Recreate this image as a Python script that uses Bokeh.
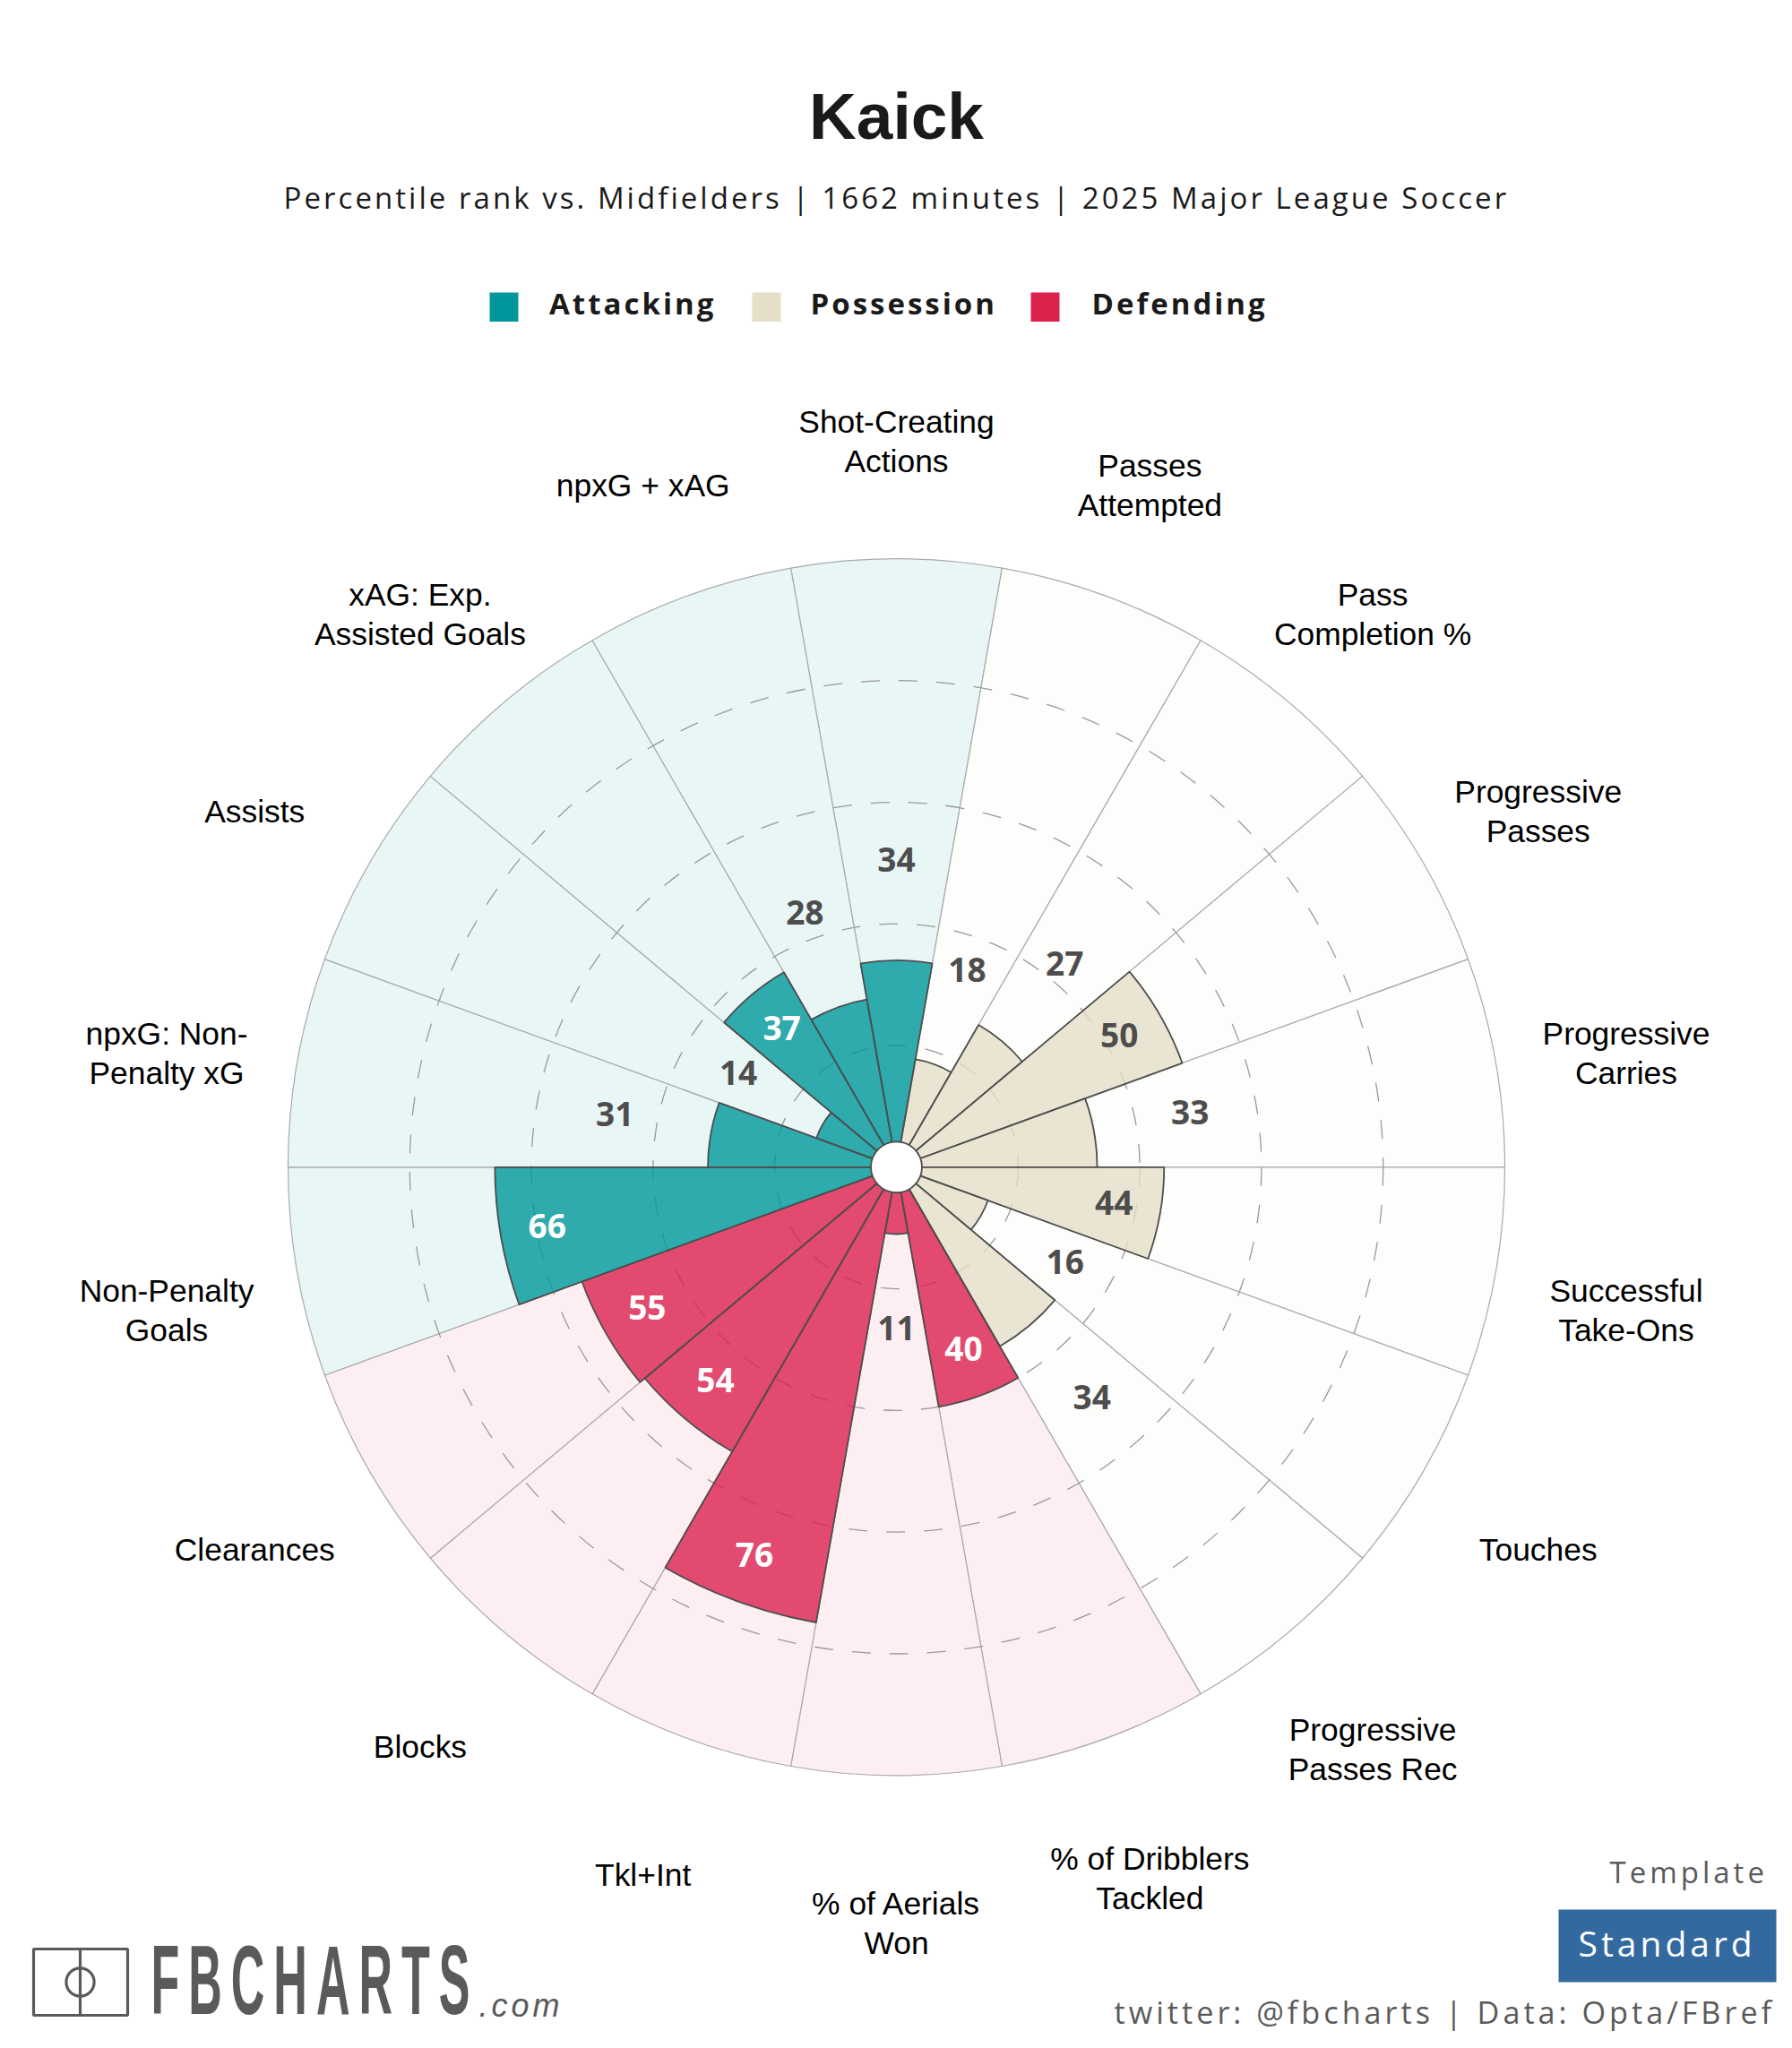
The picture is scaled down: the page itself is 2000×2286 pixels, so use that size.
import math
from bokeh.plotting import figure
from bokeh.layouts import column
from bokeh.embed import file_html
from bokeh.resources import INLINE
from bokeh.core.properties import value
from bokeh.models import Range1d

categories = ["Shot-Creating\nActions", "Passes\nAttempted", "Pass\nCompletion %", "Progressive\nPasses",
              "Progressive\nCarries", "Successful\nTake-Ons", "Touches", "Progressive\nPasses Rec",
              "% of Dribblers\nTackled", "% of Aerials\nWon", "Tkl+Int", "Blocks", "Clearances",
              "Non-Penalty\nGoals", "npxG: Non-\nPenalty xG", "Assists", "xAG: Exp.\nAssisted Goals", "npxG + xAG"]
values = [34, 18, 27, 50, 33, 44, 16, 34, 40, 11, 76, 54, 55, 66, 31, 14, 37, 28]
groups = ["A", "P", "P", "P", "P", "P", "P", "P", "D", "D", "D", "D", "D", "A", "A", "A", "A", "A"]
grid_levels = [20, 40, 60, 80]
legend_names = ["Attacking", "Possession", "Defending"]

solid = {"A": "#00979b", "P": "#e5dec8", "D": "#dc214d"}
tint = {"A": "#e9f6f6", "P": "#fdfdfb", "D": "#fdeef2"}
DARK = "#4d4d4d"
GREY = "#5a5a5a"

W, H = 1992, 2278
CX, CY = 1000.0, 1302.3     # centre of the polar plot, in pixels
K = 6.79                    # pixels per percentile point
BL = 0.40                   # baseline correction, in em

def X(px):
    return (px - CX) / K
def Y(py):
    return (CY - py) / K
def YT(py, fs):  # baseline of a text of size fs at page y
    return Y(py - BL * fs)

xr = Range1d(-CX / K, (W - CX) / K)
yr = Range1d(-(H - CY) / K, CY / K)

def make_fig(**kw):
    f = figure(width=W, height=H, x_range=xr, y_range=yr, output_backend="svg", toolbar_location=None,
               x_axis_type=None, y_axis_type=None, min_border=0, outline_line_color=None,
               background_fill_color=None, border_fill_color=None, **kw)
    f.grid.visible = False
    return f

p = make_fig()
p.background_fill_color = "white"
p.border_fill_color = "white"

centers = [90 - 20 * i for i in range(len(values))]
starts = [c - 10 for c in centers]
ends = [c + 10 for c in centers]

p.wedge(x=0, y=0, radius=[100] * len(values), start_angle=starts, end_angle=ends, start_angle_units="deg",
        end_angle_units="deg", fill_color=[tint[g] for g in groups], line_color="#aaaaaa", line_width=1.2)
for lv in grid_levels:
    p.circle(x=0, y=0, radius=lv, fill_color=None, line_color="#999999", line_width=1.3, line_dash="21 21")
p.wedge(x=0, y=0, radius=values, start_angle=starts, end_angle=ends, start_angle_units="deg",
        end_angle_units="deg", fill_color=[solid[g] for g in groups], fill_alpha=0.8,
        line_color=DARK, line_width=1.8)
p.circle(x=0, y=0, radius=4.2, fill_color="white", line_color=DARK, line_width=1.8)

# category labels
LAB_R = 121.8
LAB_SHIFT = 2.47
lx = [LAB_R * math.cos(math.radians(c)) for c in centers]
ly = [LAB_R * math.sin(math.radians(c)) - LAB_SHIFT + (0.5 if ("\n" not in t and math.sin(math.radians(c)) < 0) else 0)
      for c, t in zip(centers, categories)]
p.text(x=lx, y=ly, text=categories, text_font=value("Liberation Sans"), text_font_size="35.4px",
       text_align="center", text_baseline="middle", text_color="black", text_line_height=1.1)

# value labels
vr = [v - 7.7 if v >= 37 else v + 16 for v in values]
vx = [r * math.cos(math.radians(c)) for r, c in zip(vr, centers)]
vy = [r * math.sin(math.radians(c)) + 0.5 for r, c in zip(vr, centers)]
vc = ["white" if (v >= 37 and g != "P") else DARK for v, g in zip(values, groups)]
p.text(x=vx, y=vy, text=[str(v) for v in values], text_font=value("Open Sans"), text_font_style="bold",
       text_font_size="37px", text_align="center", text_baseline="middle", text_color=vc)

# title
p.text(x=[X(1000)], y=[YT(158.5, 73)], text=["Kaick"], text_font=value("Liberation Sans"), text_font_style="bold",
       text_font_size="73px", text_align="center", text_baseline="alphabetic", text_color="#1a1a1a")

# legend squares
for x0, g in zip([546, 839, 1150], ["A", "P", "D"]):
    p.quad(left=X(x0), right=X(x0 + 32), top=Y(326), bottom=Y(358.5), fill_color=solid[g], line_color=None)

# Standard box
p.quad(left=X(1739), right=X(1982), top=Y(2131), bottom=Y(2212), fill_color="#34699f", line_color=None)

# logo icon
p.quad(left=X(37), right=X(142), top=Y(2175), bottom=Y(2249), fill_color=None, line_color=GREY, line_width=3.2)
p.segment(x0=X(89), y0=Y(2175), x1=X(89), y1=Y(2249), line_color=GREY, line_width=3.2)
p.circle(x=X(89), y=Y(2212), radius=15.6 / K, fill_color=None, line_color=GREY, line_width=3.2)

# subtitle layer
sub = make_fig(margin=(-H, 0, 0, 0), styles={"letter-spacing": "3.05px"})
sub.text(x=[X(316)], y=[YT(233, 33)], text=["Percentile rank vs. Midfielders | 1662 minutes | 2025 Major League Soccer"],
         text_font=value("Open Sans"), text_font_size="33px", text_align="left", text_baseline="alphabetic",
         text_color="#1a1a1a")

# legend text layer
leg = make_fig(margin=(-H, 0, 0, 0), styles={"letter-spacing": "3px"})
leg.text(x=[X(612.6), X(904), X(1218)], y=[YT(351, 33)] * 3, text=legend_names, text_font=value("Open Sans"),
         text_font_style="bold", text_font_size="33px", text_align="left", text_baseline="alphabetic",
         text_color="#1a1a1a")

# footer text layer
foot = make_fig(margin=(-H, 0, 0, 0), styles={"letter-spacing": "4px"})
foot.text(x=[X(1796)], y=[YT(2102, 33)], text=["Template"], text_font=value("Open Sans"), text_font_size="33px",
          text_align="left", text_baseline="alphabetic", text_color=GREY)
foot.text(x=[X(1761)], y=[YT(2184, 39)], text=["Standard"], text_font=value("Open Sans"), text_font_size="39px",
          text_align="left", text_baseline="alphabetic", text_color="white")
foot.text(x=[X(1243)], y=[YT(2259, 34.2)], text=["twitter: @fbcharts | Data: Opta/FBref"], text_font=value("Open Sans"),
          text_font_size="34.2px", text_align="left", text_baseline="alphabetic", text_color=GREY)
foot.text(x=[X(534)], y=[YT(2252, 36)], text=[".com"], text_font=value("Liberation Sans"), text_font_style="italic",
          text_font_size="36px", text_align="left", text_baseline="alphabetic", text_color=GREY)

# logo word: a small figure stretched vertically around its own centre, as the condensed logotype is
LOGO_H = 60
logo = figure(width=600, height=LOGO_H, x_range=(0, 600), y_range=(0, LOGO_H), output_backend="svg",
              toolbar_location=None, x_axis_type=None, y_axis_type=None, min_border=0, outline_line_color=None,
              background_fill_color=None, border_fill_color=None,
              margin=(-H + 2212 - LOGO_H // 2 - 62, 0, 0, 0),
              styles={"letter-spacing": "10px", "transform": "scaleY(2.1)"})
logo.grid.visible = False
logo.text(x=[168], y=[LOGO_H / 2 - 18.6 + BL * 52], text=["FBCHARTS"], text_font=value("Liberation Sans"),
          text_font_style="bold", text_font_size="52px", text_align="left", text_baseline="alphabetic",
          text_color=GREY)

page = column(p, sub, leg, foot, logo, spacing=0)
open("out.html", "w").write(file_html(page, INLINE))
